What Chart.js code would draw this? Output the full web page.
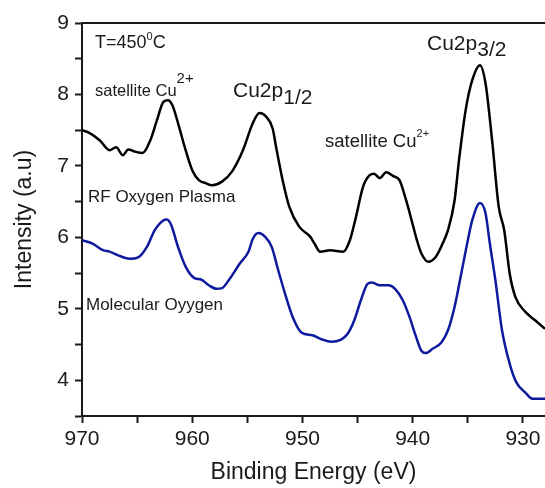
<!DOCTYPE html>
<html>
<head>
<meta charset="utf-8">
<script src="https://cdn.jsdelivr.net/npm/chart.js@4/dist/chart.umd.min.js"></script>
<style>
  body { margin:0; background:#fff; }
</style>
</head>
<body>
<canvas id="xps" width="545" height="488"></canvas>
<script>
// Binding energy (eV) / intensity (a.u.)
const rfEnergy = [970, 969.3, 968.4, 967.5, 966.9, 966.3, 965.8, 965.2, 964.5, 963.8, 963.2, 962.6, 962.2, 961.8, 961.2, 960.6, 960.0, 959.4, 958.8, 958.2, 957.3, 956.4, 955.4, 954.5, 953.9, 953.3, 952.7, 952.4, 951.8, 951.2, 950.3, 949.3, 948.9, 948.4, 947.5, 946.3, 945.7, 945.2, 944.5, 943.9, 943.5, 943.0, 942.4, 941.8, 941.2, 940.6, 940.0, 939.6, 939.2, 938.6, 937.9, 937.3, 936.8, 936.2, 935.8, 935.2, 934.6, 933.9, 933.4, 932.8, 932.2, 931.7, 931.2, 930.7, 929.8, 928.9, 928.0];
const rfIntensity = [7.50, 7.46, 7.36, 7.22, 7.26, 7.15, 7.23, 7.20, 7.18, 7.36, 7.64, 7.90, 7.92, 7.85, 7.55, 7.22, 6.94, 6.80, 6.76, 6.73, 6.78, 6.92, 7.22, 7.60, 7.74, 7.69, 7.52, 7.27, 6.80, 6.43, 6.15, 6.01, 5.91, 5.80, 5.82, 5.80, 5.96, 6.25, 6.71, 6.87, 6.89, 6.83, 6.91, 6.86, 6.80, 6.52, 6.18, 5.95, 5.77, 5.66, 5.73, 5.91, 6.10, 6.52, 7.08, 7.78, 8.20, 8.41, 8.16, 7.36, 6.43, 6.10, 5.49, 5.17, 4.96, 4.84, 4.72];

const molEnergy = [970, 969.0, 968.1, 967.5, 966.6, 965.7, 964.9, 964.1, 963.4, 962.6, 962.3, 961.9, 961.3, 960.6, 959.8, 959.2, 958.5, 957.8, 957.3, 956.6, 955.7, 954.9, 954.5, 954.0, 953.4, 952.8, 952.2, 951.5, 950.9, 950.1, 949.1, 948.2, 947.4, 946.5, 945.9, 945.3, 944.7, 944.1, 943.7, 943.0, 942.2, 941.6, 940.9, 940.3, 939.7, 939.2, 938.8, 938.2, 937.4, 936.8, 936.2, 935.6, 935.0, 934.6, 933.9, 933.4, 933.0, 932.5, 931.9, 931.2, 930.6, 929.8, 929.1, 928.0];
const molIntensity = [5.96, 5.91, 5.82, 5.80, 5.74, 5.70, 5.72, 5.87, 6.10, 6.24, 6.25, 6.17, 5.87, 5.59, 5.43, 5.41, 5.33, 5.28, 5.29, 5.42, 5.63, 5.80, 5.98, 6.06, 6.01, 5.87, 5.54, 5.17, 4.89, 4.67, 4.63, 4.57, 4.54, 4.57, 4.65, 4.84, 5.12, 5.35, 5.37, 5.33, 5.33, 5.28, 5.12, 4.89, 4.61, 4.41, 4.38, 4.44, 4.53, 4.70, 5.03, 5.49, 5.96, 6.24, 6.48, 6.34, 5.91, 5.40, 4.70, 4.23, 3.97, 3.83, 3.74, 3.74];

const xTickValues = [930, 940, 950, 960, 970];
const yTickValues = [4, 5, 6, 7, 8, 9];

const FONT = "'Liberation Sans', Arial, sans-serif";
const INK = '#1a1a1a';

function toPoints(xs, ys) {
  return xs.map((x, i) => ({ x: x, y: ys[i] }));
}

// text bits with super/subscripts
function drawRich(ctx, x, y, parts) {
  let cx = x;
  parts.forEach(p => {
    ctx.font = p.size + 'px ' + FONT;
    ctx.fillText(p.t, cx, y + (p.dy || 0));
    cx += ctx.measureText(p.t).width;
  });
}

const decor = {
  id: 'decor',
  afterDatasetsDraw(chart) {
    const ctx = chart.ctx;
    const a = chart.chartArea;
    ctx.save();
    // top frame line
    ctx.strokeStyle = INK;
    ctx.lineWidth = 2;
    ctx.beginPath();
    ctx.moveTo(a.left, a.top);
    ctx.lineTo(a.right, a.top);
    ctx.stroke();

    ctx.fillStyle = INK;
    ctx.textBaseline = 'alphabetic';
    ctx.textAlign = 'left';
    drawRich(ctx, 95, 48, [{t:'T=450', size:18}, {t:'0', size:11, dy:-8}, {t:'C', size:18}]);
    drawRich(ctx, 95, 96, [{t:'satellite Cu', size:16.5}, {t:'2+', size:15, dy:-13}]);
    drawRich(ctx, 233, 97, [{t:'Cu2p', size:21}, {t:'1/2', size:21, dy:7}]);
    drawRich(ctx, 427, 50, [{t:'Cu2p', size:21}, {t:'3/2', size:21, dy:6}]);
    drawRich(ctx, 325, 147, [{t:'satellite Cu', size:18.5}, {t:'2+', size:11, dy:-10}]);
    drawRich(ctx, 88, 202, [{t:'RF Oxygen Plasma', size:17}]);
    drawRich(ctx, 86, 310, [{t:'Molecular Oyygen', size:17}]);
    ctx.restore();
  }
};

new Chart(document.getElementById('xps'), {
  type: 'scatter',
  data: {
    datasets: [
      {
        label: 'RF Oxygen Plasma',
        data: toPoints(rfEnergy, rfIntensity),
        showLine: true,
        borderColor: '#000000',
        borderWidth: 2.5,
        pointRadius: 0,
        cubicInterpolationMode: 'monotone'
      },
      {
        label: 'Molecular Oyygen',
        data: toPoints(molEnergy, molIntensity),
        showLine: true,
        borderColor: '#0d1a9e',
        borderWidth: 2.5,
        pointRadius: 0,
        cubicInterpolationMode: 'monotone'
      }
    ]
  },
  options: {
    responsive: false,
    animation: false,
    devicePixelRatio: 1,
    layout: { padding: { top: 23, right: 0, left: 0, bottom: 0 } },
    plugins: { legend: { display: false }, tooltip: { enabled: false } },
    scales: {
      x: {
        type: 'linear',
        reverse: true,
        min: 928,
        max: 970,
        afterFit: s => { s.height = 72; },
        afterBuildTicks: s => {
          s.ticks = [];
          for (let v = 930; v <= 970; v += 5) s.ticks.push({ value: v });
        },
        ticks: {
          color: INK,
          font: { family: FONT, size: 21 },
          padding: 4,
          maxRotation: 0,
          autoSkip: false,
          callback: v => xTickValues.includes(v) ? String(v) : ''
        },
        grid: { drawOnChartArea: false, drawTicks: true, tickLength: 7, tickWidth: 2, tickColor: INK },
        border: { display: true, color: INK, width: 2 },
        title: {
          display: true,
          text: 'Binding Energy (eV)',
          color: INK,
          font: { family: FONT, size: 23 },
          padding: { top: 0, bottom: 2 }
        }
      },
      y: {
        min: 3.5,
        max: 9,
        afterFit: s => { s.width = 82; },
        afterBuildTicks: s => {
          s.ticks = [];
          for (let v = 3.5; v <= 9.001; v += 0.5) s.ticks.push({ value: v });
        },
        ticks: {
          color: INK,
          font: { family: FONT, size: 21 },
          padding: 6,
          autoSkip: false,
          callback: v => yTickValues.includes(v) ? String(v) : ''
        },
        grid: { drawOnChartArea: false, drawTicks: true, tickLength: 7, tickWidth: 2, tickColor: INK },
        border: { display: true, color: INK, width: 2 },
        title: {
          display: true,
          text: 'Intensity (a.u)',
          color: INK,
          font: { family: FONT, size: 23 },
          padding: { top: 11, bottom: 0 }
        }
      }
    }
  },
  plugins: [decor]
});
</script>
</body>
</html>
